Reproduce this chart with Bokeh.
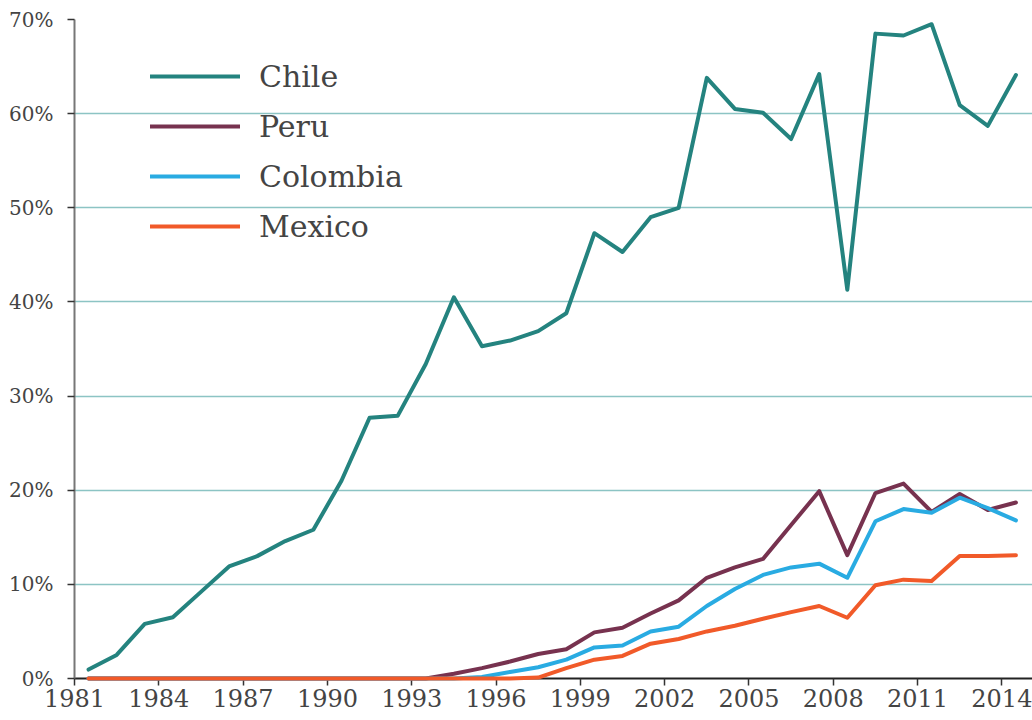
from bokeh.plotting import figure
from bokeh.models import Range1d, FixedTicker, PrintfTickFormatter, Legend, LegendItem
from bokeh.embed import file_html
from bokeh.resources import INLINE

years = list(range(1981, 2015))
chile = [0.95, 2.5, 5.8, 6.5, 9.2, 11.9, 13.0, 14.6, 15.8, 21.0,
         27.7, 27.9, 33.4, 40.5, 35.3, 35.9, 36.9, 38.8, 47.3, 45.3,
         49.0, 50.0, 63.8, 60.5, 60.1, 57.3, 64.2, 41.3, 68.5, 68.3,
         69.5, 60.9, 58.7, 64.1]
peru = [0, 0, 0, 0, 0, 0, 0, 0, 0, 0,
        0, 0, 0.0, 0.5, 1.1, 1.8, 2.6, 3.1, 4.9, 5.4,
        6.9, 8.3, 10.7, 11.8, 12.7, 16.3, 19.9, 13.1, 19.7, 20.7,
        17.7, 19.6, 17.9, 18.7]
colombia = [0, 0, 0, 0, 0, 0, 0, 0, 0, 0,
            0, 0, 0, 0, 0.15, 0.7, 1.2, 2.0, 3.3, 3.5,
            5.0, 5.5, 7.7, 9.5, 11.0, 11.8, 12.2, 10.7, 16.7, 18.0,
            17.6, 19.2, 18.1, 16.8]
mexico = [0, 0, 0, 0, 0, 0, 0, 0, 0, 0,
          0, 0, 0, 0, 0, 0, 0.1, 1.1, 2.0, 2.4,
          3.7, 4.2, 5.0, 5.6, 6.35, 7.05, 7.7, 6.45, 9.9, 10.5,
          10.35, 13.0, 13.0, 13.1]
series_names = ["Chile", "Peru", "Colombia", "Mexico"]
series_colors = ["#24837f", "#77324f", "#29abe2", "#f15a29"]
x_ticks = list(range(1981, 2015, 3))
y_ticks = [0, 10, 20, 30, 40, 50, 60, 70]

x = [y + 0.5 for y in years]

FONT = "DejaVu Serif"
TEXT = "#444444"

p = figure(width=1032, height=720,
           x_range=Range1d(1981, 2015.09), y_range=Range1d(0, 70),
           output_backend="svg", toolbar_location=None,
           min_border_left=74, min_border_right=0,
           min_border_top=19, min_border_bottom=42)
p.outline_line_color = None
p.background_fill_color = "white"
p.border_fill_color = "white"

p.xgrid.visible = False
p.ygrid.ticker = FixedTicker(ticks=y_ticks)
p.ygrid.grid_line_color = "#8cc4c4"
p.ygrid.grid_line_width = 1.5

xa = p.xaxis[0]
xa.ticker = FixedTicker(ticks=x_ticks)
xa.axis_line_color = "#222222"
xa.axis_line_width = 2
xa.major_tick_line_color = "#333333"
xa.major_tick_line_width = 1.5
xa.major_tick_out = 7
xa.major_tick_in = 0
xa.minor_tick_line_color = None
xa.major_label_text_font = FONT
xa.major_label_text_font_size = "24px"
xa.major_label_text_color = TEXT
xa.major_label_standoff = 3

ya = p.yaxis[0]
ya.ticker = FixedTicker(ticks=y_ticks)
ya.formatter = PrintfTickFormatter(format="%d%%")
ya.axis_line_color = "#777777"
ya.axis_line_width = 2
ya.major_tick_line_color = "#333333"
ya.major_tick_line_width = 1.5
ya.major_tick_out = 7
ya.major_tick_in = 0
ya.minor_tick_line_color = None
ya.major_label_text_font = FONT
ya.major_label_text_font_size = "20px"
ya.major_label_text_color = TEXT
ya.major_label_standoff = 14

items = []
for name, vals, col in zip(series_names, [chile, peru, colombia, mexico], series_colors):
    r = p.line(x, vals, line_color=col, line_width=4,
               line_join="round", line_cap="round", level="overlay")
    items.append(LegendItem(label=name, renderers=[r]))

legend = Legend(items=items, location=(76, 432),
                glyph_width=90, glyph_height=40, label_height=40,
                spacing=10, label_standoff=19, padding=0, margin=0,
                border_line_alpha=0, background_fill_alpha=0,
                label_text_font=FONT, label_text_font_size="30px",
                label_text_color=TEXT)
p.add_layout(legend)

open("out.html", "w").write(file_html(p, INLINE))
